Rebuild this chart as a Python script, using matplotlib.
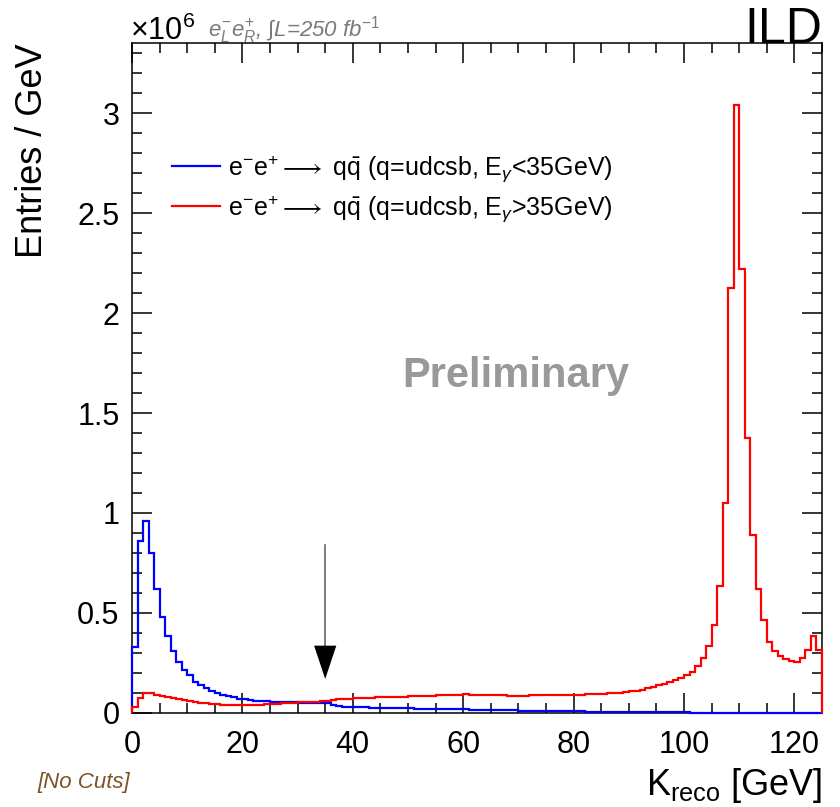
import numpy as np
import matplotlib
matplotlib.use("Agg")
import matplotlib.pyplot as plt
from matplotlib.lines import Line2D
from matplotlib.ticker import MultipleLocator, FuncFormatter

plt.rcParams["font.family"] = ["Liberation Sans", "DejaVu Sans"]
plt.rcParams["mathtext.fontset"] = "custom"
plt.rcParams["mathtext.rm"] = "Liberation Sans"
plt.rcParams["mathtext.it"] = "Liberation Sans:italic"
plt.rcParams["mathtext.bf"] = "Liberation Sans:bold"

# 1 GeV bins from 0 to 125 GeV, entries in units of 1e6
bin_edges = np.arange(0, 126, 1.0)

blue_values = [
    0.33, 0.86, 0.96, 0.80, 0.62, 0.48, 0.385, 0.31, 0.257, 0.215,
    0.19, 0.157, 0.14, 0.125, 0.112, 0.100, 0.092, 0.085, 0.078, 0.072,
    0.068, 0.065, 0.062, 0.060, 0.058, 0.057, 0.056, 0.055, 0.054, 0.053,
    0.052, 0.051, 0.050, 0.050, 0.049, 0.048, 0.040, 0.034, 0.032, 0.031,
    0.030, 0.029, 0.028, 0.027, 0.026, 0.025, 0.025, 0.024, 0.024, 0.023,
    0.023, 0.022, 0.022, 0.021, 0.021, 0.020, 0.020, 0.019, 0.019, 0.018,
    0.018, 0.017, 0.017, 0.016, 0.016, 0.015, 0.015, 0.014, 0.014, 0.013,
    0.012, 0.012, 0.011, 0.011, 0.010, 0.010, 0.009, 0.009, 0.009, 0.008,
    0.008, 0.008, 0.007, 0.007, 0.007, 0.006, 0.006, 0.006, 0.005, 0.005,
    0.005, 0.005, 0.004, 0.004, 0.004, 0.004, 0.003, 0.003, 0.003, 0.003,
    0.003, 0.002, 0.002, 0.002, 0.002, 0.002, 0.002, 0.002, 0.002, 0.002,
    0.002, 0.001, 0.001, 0.001, 0.001, 0.001, 0.001, 0.001, 0.001, 0.001,
    0.001, 0.001, 0.001, 0.001, 0.001,
]

red_values = [
    0.028, 0.075, 0.100, 0.098, 0.092, 0.087, 0.080, 0.074, 0.068, 0.063,
    0.058, 0.054, 0.051, 0.048, 0.046, 0.044, 0.042, 0.041, 0.040, 0.040,
    0.040, 0.040, 0.041, 0.042, 0.043, 0.045, 0.046, 0.048, 0.050, 0.052,
    0.054, 0.055, 0.056, 0.057, 0.058, 0.060, 0.064, 0.068, 0.070, 0.072,
    0.073, 0.075, 0.076, 0.077, 0.078, 0.079, 0.080, 0.081, 0.081, 0.082,
    0.083, 0.084, 0.085, 0.086, 0.087, 0.088, 0.089, 0.090, 0.091, 0.092,
    0.093, 0.092, 0.091, 0.090, 0.090, 0.089, 0.088, 0.088, 0.087, 0.087,
    0.087, 0.087, 0.088, 0.088, 0.088, 0.089, 0.089, 0.089, 0.090, 0.090,
    0.091, 0.092, 0.093, 0.094, 0.095, 0.097, 0.098, 0.100, 0.102, 0.105,
    0.108, 0.112, 0.117, 0.123, 0.130, 0.138, 0.146, 0.155, 0.165, 0.175,
    0.188, 0.205, 0.235, 0.275, 0.335, 0.44, 0.635, 1.05, 2.125, 3.04,
    2.22, 1.375, 0.89, 0.62, 0.465, 0.357, 0.31, 0.285, 0.27, 0.26,
    0.257, 0.275, 0.315, 0.385, 0.315,
]

labels = [
    r"e$^{-}$e$^{+}${$\longrightarrow$} q$\bar{\rm q}$ (q=udcsb, E$_{\gamma}$<35GeV)",
    r"e$^{-}$e$^{+}${$\longrightarrow$} q$\bar{\rm q}$ (q=udcsb, E$_{\gamma}$>35GeV)",
]
labels = [s.replace("{$\\longrightarrow$}", "${\\longrightarrow}$") for s in labels]
colors = ["#0000ff", "#ff0000"]
cut_value = 35.0

fig = plt.figure(figsize=(8.4, 8.07), dpi=100)
W, H = 840.0, 807.0
ax = fig.add_axes([132 / W, 1 - 713 / H, 690 / W, 670 / H])

ax.stairs(blue_values, bin_edges, color=colors[0], lw=1.6, baseline=0,
          zorder=3, clip_on=False)
ax.stairs(red_values, bin_edges, color=colors[1], lw=1.6, baseline=0,
          zorder=3, clip_on=False)

ax.set_xlim(0, 125)
ax.set_ylim(0, 3.35)

# cut arrow
ax.plot([cut_value, cut_value], [0.33, 0.84], color="#666666", lw=1.2)
ax.annotate("", xy=(cut_value, 0.17), xytext=(cut_value, 0.34),
            arrowprops=dict(arrowstyle="-|>,head_length=1.2,head_width=0.4",
                            mutation_scale=20, color="black", lw=0,
                            shrinkA=0, shrinkB=0))

# axes style (ROOT-like)
ax.xaxis.set_major_locator(MultipleLocator(20))
ax.xaxis.set_minor_locator(MultipleLocator(5))
ax.yaxis.set_major_locator(MultipleLocator(0.5))
ax.yaxis.set_minor_locator(MultipleLocator(0.1))
ax.yaxis.set_major_formatter(FuncFormatter(lambda v, p: f"{v:g}"))
ax.tick_params(which="both", direction="in", top=True, right=True, width=1.1,
               labelsize=22)
ax.tick_params(which="major", length=14.4)
ax.tick_params(which="minor", length=7.2)
ax.tick_params(axis="x", which="major", pad=12)
ax.tick_params(axis="y", which="major", pad=9)
for s in ax.spines.values():
    s.set_linewidth(1.1)

handles = [Line2D([], [], color=c, lw=1.6) for c in colors]
ax.legend(handles, labels, loc="upper left", frameon=False, fontsize=18,
          bbox_to_anchor=(172 / W, 1 - 153 / H), bbox_transform=fig.transFigure,
          borderpad=0, borderaxespad=0, handlelength=1.9, handletextpad=0.35,
          labelspacing=0.35)

ax.text(0.5565, 0.4866, "Preliminary", transform=ax.transAxes, ha="center",
        va="baseline", fontsize=30, fontweight="bold", color="#999999")
ax.text(1.0, 1.0, "ILD", transform=ax.transAxes, ha="right", va="baseline",
        fontsize=36)

fig.text(130 / W, 1 - 40 / H, r"$\times$10$^{6}$", fontsize=22, va="baseline")
fig.text(208 / W, 1 - 36 / H, r"$e^{-}_{L}e^{+}_{R}$, $\int$L=250 fb$^{-1}$",
         fontsize=16, style="italic", color="#7a7a7a", va="baseline")
fig.text(33 / W, 1 - 43 / H, "Entries / GeV", rotation=90, ha="center",
         va="top", fontsize=26)
fig.text(822 / W, 1 - 795 / H, r"K$_{\rm reco}$ [GeV]", ha="right",
         va="baseline", fontsize=26)
fig.text(37 / W, 1 - 788 / H, "[No Cuts]", style="italic", color="#7d5427",
         fontsize=16, va="baseline")

fig.savefig("out.png", dpi=100)
